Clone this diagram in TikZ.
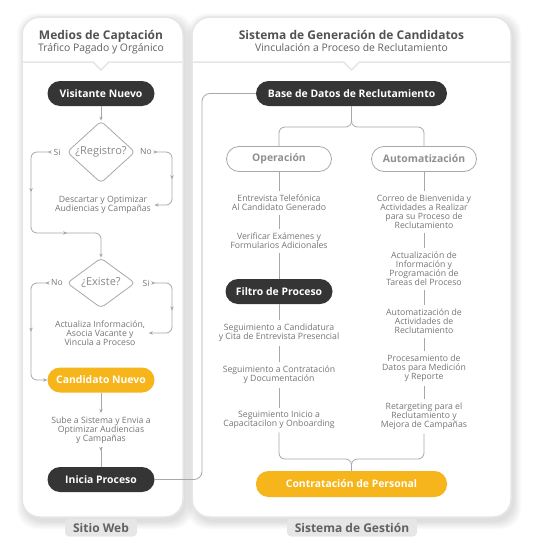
\documentclass[tikz,border=0pt]{standalone}
\usepackage{fontspec}
\setmainfont{Open Sans}
\usetikzlibrary{shapes.geometric, arrows.meta, decorations.markings}
\definecolor{oscuro}{HTML}{353535}
\definecolor{amarillo}{HTML}{F6B51B}
\definecolor{linea}{HTML}{A8A8A8}
\definecolor{texto}{HTML}{767676}
\definecolor{borde}{HTML}{E6E6E6}
\definecolor{etiqueta}{HTML}{E6E6E6}

\tikzset{
  pildora/.style={rectangle, rounded corners=12.5pt, minimum height=25pt, minimum width=107pt,
    inner sep=0pt, font=\bfseries\fontsize{10.4}{12}\selectfont, text=white},
  oscura/.style={pildora, fill=oscuro},
  dorada/.style={pildora, fill=amarillo},
  hueca/.style={pildora, draw=linea, line width=0.8pt, fill=white, text=linea!85!black},
  rombo/.style={diamond, draw=linea, line width=0.8pt, minimum width=68pt, minimum height=50pt,
    inner sep=0pt, rounded corners=4pt, font=\fontsize{11}{12}\selectfont, text=texto!85},
  nota/.style={align=center, font=\fontsize{8.7}{9}\selectfont, text=texto, inner sep=3.5pt},
  rotulo/.style={font=\fontsize{8.5}{10}\selectfont, text=texto, inner sep=4pt},
  titulo/.style={anchor=base, font=\bfseries\fontsize{12}{13}\selectfont, text=black!68},
  subtitulo/.style={anchor=base, font=\fontsize{10.4}{11}\selectfont, text=black!62},
  pestana/.style={fill=etiqueta, rounded corners=4pt, minimum height=18pt, inner sep=0pt,
    font=\bfseries\fontsize{12}{14}\selectfont, text=black!62},
  conector/.style={draw=linea, line width=0.8pt, rounded corners=6pt},
  punta/.style={-{Stealth[length=4pt,width=3.5pt]}},
  marca/.style={postaction={decorate, decoration={markings,
    mark=at position #1 with {\arrow{Stealth[length=4pt,width=3.5pt]}}}}},
}

\begin{document}
\begin{tikzpicture}[x=1pt, y=-1pt]
  \useasboundingbox (0,0) rectangle (537,546);

  % sombras de los paneles
  \foreach \s in {1,...,8} {
    \fill[black, opacity=0.014, rounded corners=20pt] (25-\s,21-\s) rectangle (185+\s,521+\s);
    \fill[black, opacity=0.014, rounded corners=20pt] (195-\s,21-\s) rectangle (513+\s,521+\s);
  }

  % paneles
  \draw[borde, line width=1.5pt, fill=white, rounded corners=18pt] (22,17) rectangle (183,517);
  \draw[borde, line width=1.5pt, fill=white, rounded corners=18pt] (192,17) rectangle (511,517);
  \draw[borde, line width=1.5pt] (22.8,62) -- (93,62) -- (101,70) -- (109,62) -- (182.2,62);
  \draw[borde, line width=1.5pt] (192.8,62) -- (343.5,62) -- (351.5,70) -- (359.5,62) -- (510.2,62);

  \node[titulo] (titWeb) at (101,39) {Medios de Captación};
  \node[subtitulo] (subWeb) at (101,51) {Tráfico Pagado y Orgánico};
  \node[titulo] (titGes) at (351.5,39.5) {Sistema de Generación de Candidatos};
  \node[subtitulo] (subGes) at (351.5,51) {Vinculación a Proceso de Reclutamiento};

  \node[pestana, minimum width=72pt] (web) at (101,527.5) {Sitio Web};
  \node[pestana, minimum width=130pt] (gestion) at (352,527.5) {Sistema de Gestión};

  % sitio web
  \node[oscura] (visitante) at (101,93.5) {Visitante Nuevo};
  \node[rombo] (registro) at (101,152) {¿Registro?};
  \node[rotulo] (si1) at (57,152) {Si};
  \node[rotulo] (no1) at (146,152) {No};
  \node[nota] (descartar) at (103,205) {Descartar y Optimizar\\Audiencias y Campañas};
  \node[rombo] (existe) at (101,283) {¿Existe?};
  \node[rotulo] (no2) at (57,283) {No};
  \node[rotulo] (si2) at (146,283) {Si};
  \node[nota] (actualiza) at (100,333) {Actualiza Información,\\Asocia Vacante y\\Vincula a Proceso};
  \node[dorada] (candidato) at (101,380) {Candidato Nuevo};
  \node[nota] (sube) at (101,430) {Sube a Sistema y Envia a\\Optimizar Audiencias\\y Campañas};
  \node[oscura] (inicia) at (101,479.5) {Inicia Proceso};

  \draw[conector, punta] (visitante) -- (registro);
  \draw[conector, marca=1.5pt, marca=0.3, marca=0.7, punta]
    (si1.west) -- (31,152) -- (31,233) -- (101,233) -- (existe.north);
  \draw[conector, marca=1.5pt, marca=0.5, punta]
    (no1.east) -- (172,152) -- (172,205) -- (descartar.east);
  \draw[conector, marca=1.5pt, marca=0.5, punta]
    (si2.east) -- (172,283) -- (172,333) -- (actualiza.east);
  \draw[conector, marca=1.5pt, marca=0.5, punta]
    (no2.west) -- (31,283) -- (31,380) -- (candidato.west);
  \draw[conector, punta] (candidato) -- (sube);
  \draw[conector, marca=4pt] (sube) -- (inicia);

  % sistema de gestion
  \node[oscura, minimum width=191pt] (base) at (351.5,93.5) {Base de Datos de Reclutamiento};
  \draw[conector, rounded corners=8pt] (inicia.east) -- (202,479.5) -- (202,93.5) -- (base.west);
  \node[hueca, minimum width=105pt] (operacion) at (279,159) {Operación};
  \node[hueca, minimum width=105pt] (automatizacion) at (424,159) {Automatización};
  \draw[conector] (base.south) -- (351.5,127) -| (operacion.north);
  \draw[conector] (base.south) -- (351.5,127) -| (automatizacion.north);

  \node[nota] (entrevista) at (279,203) {Entrevista Telefónica\\Al Candidato Generado};
  \node[nota] (verificar) at (279,241) {Verificar Exámenes y\\Formularios Adicionales};
  \node[oscura] (filtro) at (279,291.5) {Filtro de Proceso};
  \node[nota] (candidatura) at (279,333) {Seguimiento a Candidatura\\y Cita de Entrevista Presencial};
  \node[nota] (contratacion) at (279,375) {Seguimiento a Contratación\\y Documentación};
  \node[nota] (inicio) at (279,420) {Seguimiento Inicio a\\Capacitacilon y Onboarding};

  \node[nota] (correo) at (424,212) {Correo de Bienvenida y\\Actividades a Realizar\\para su Proceso de\\Reclutamiento};
  \node[nota] (informacion) at (424,269) {Actualización de\\Información y\\Programación de\\Tareas del Proceso};
  \node[nota] (actividades) at (424,321.5) {Automatización de\\Actividades de\\Reclutamiento};
  \node[nota] (datos) at (424,368.5) {Procesamiento de\\Datos para Medición\\y Reporte};
  \node[nota] (retargeting) at (424,416.5) {Retargeting para el\\Reclutamiento y\\Mejora de Campañas};

  \foreach \a/\b in {operacion/entrevista, entrevista/verificar, verificar/filtro,
      filtro/candidatura, candidatura/contratacion, contratacion/inicio,
      automatizacion/correo, correo/informacion, informacion/actividades,
      actividades/datos, datos/retargeting}
    \draw[conector] (\a) -- (\b);

  \node[dorada, minimum width=191pt, minimum height=26pt] (personal) at (351.5,484) {Contratación de Personal};
  \draw[conector] (inicio.south) |- (351.5,459) -- (personal.north);
  \draw[conector] (retargeting.south) |- (351.5,459) -- (personal.north);
\end{tikzpicture}
\end{document}
